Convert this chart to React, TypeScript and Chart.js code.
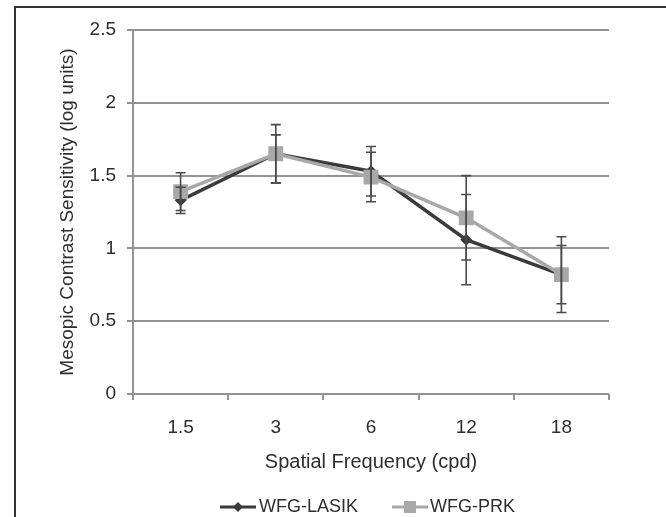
import React, { useEffect, useRef } from "react";
import { Chart, registerables } from "chart.js";

Chart.register(...registerables);

const categories = ["1.5", "3", "6", "12", "18"];
const lasikValues = [1.33, 1.65, 1.53, 1.06, 0.82];
const lasikErrPlus = [0.09, 0.2, 0.17, 0.31, 0.2];
const lasikErrMinus = [0.09, 0.2, 0.17, 0.31, 0.2];
const prkValues = [1.39, 1.65, 1.49, 1.21, 0.82];
const prkErrPlus = [0.13, 0.13, 0.17, 0.29, 0.26];
const prkErrMinus = [0.13, 0.2, 0.17, 0.29, 0.26];
const yTickLabels = ["0", "0.5", "1", "1.5", "2", "2.5"];
const seriesNames = ["WFG-LASIK", "WFG-PRK"];
const yTitle = "Mesopic Contrast Sensitivity (log units)";
const xTitle = "Spatial Frequency (cpd)";

const FONT = "'Liberation Sans', Arial, sans-serif";
const DARK = "#3b3b3b";
const LIGHT = "#a8a8a8";
const GRID = "#939393";
const TEXT = "#2e2e2e";

const errorBarPlugin = {
  id: "errorBars",
  afterDatasetsDraw(chart: any) {
    const { ctx } = chart;
    const y = chart.scales.y;
    const x = chart.scales.x;
    const sets = [
      { v: lasikValues, p: lasikErrPlus, m: lasikErrMinus },
      { v: prkValues, p: prkErrPlus, m: prkErrMinus },
    ];
    ctx.save();
    ctx.strokeStyle = "#4a4a4a";
    ctx.lineWidth = 1.6;
    sets.forEach((s) => {
      s.v.forEach((val, i) => {
        const px = x.getPixelForValue(i);
        const top = y.getPixelForValue(val + s.p[i]);
        const bot = y.getPixelForValue(val - s.m[i]);
        ctx.beginPath();
        ctx.moveTo(px, top);
        ctx.lineTo(px, bot);
        ctx.moveTo(px - 5, top);
        ctx.lineTo(px + 5, top);
        ctx.moveTo(px - 5, bot);
        ctx.lineTo(px + 5, bot);
        ctx.stroke();
      });
    });
    ctx.restore();
  },
};

const legendPlugin = {
  id: "customLegend",
  afterDraw(chart: any) {
    const { ctx } = chart;
    const ly = 507;
    ctx.save();
    ctx.font = `18px ${FONT}`;
    ctx.textBaseline = "middle";
    // LASIK
    ctx.strokeStyle = DARK;
    ctx.lineWidth = 3;
    ctx.beginPath();
    ctx.moveTo(220, ly);
    ctx.lineTo(256, ly);
    ctx.stroke();
    ctx.fillStyle = DARK;
    ctx.beginPath();
    ctx.moveTo(238, ly - 5);
    ctx.lineTo(243, ly);
    ctx.lineTo(238, ly + 5);
    ctx.lineTo(233, ly);
    ctx.closePath();
    ctx.fill();
    ctx.fillStyle = TEXT;
    ctx.fillText(seriesNames[0], 259, ly);
    // PRK
    ctx.strokeStyle = LIGHT;
    ctx.beginPath();
    ctx.moveTo(392, ly);
    ctx.lineTo(428, ly);
    ctx.stroke();
    ctx.fillStyle = LIGHT;
    ctx.fillRect(404, ly - 6, 12, 12);
    ctx.fillStyle = TEXT;
    ctx.fillText(seriesNames[1], 430, ly);
    ctx.restore();
  },
};

export default function App() {
  const ref = useRef<HTMLCanvasElement>(null);
  useEffect(() => {
    document.body.style.margin = "0";
    const chart = new Chart(ref.current as HTMLCanvasElement, {
      type: "line",
      data: {
        labels: categories,
        datasets: [
          {
            label: seriesNames[0],
            data: lasikValues,
            borderColor: DARK,
            backgroundColor: DARK,
            borderWidth: 3.5,
            pointStyle: "rectRot",
            pointRadius: 6,
            pointBorderWidth: 0,
            tension: 0,
            order: 1,
          },
          {
            label: seriesNames[1],
            data: prkValues,
            borderColor: LIGHT,
            backgroundColor: LIGHT,
            borderWidth: 3.5,
            pointStyle: "rect",
            pointRadius: 10.5,
            pointBorderWidth: 0,
            tension: 0,
            order: 0,
          },
        ],
      },
      options: {
        responsive: false,
        animation: false,
        devicePixelRatio: 1,
        layout: { padding: { left: 0, right: 57, top: 30, bottom: 0 } },
        plugins: { legend: { display: false }, tooltip: { enabled: false } },
        scales: {
          x: {
            type: "category",
            offset: true,
            grid: {
              offset: true,
              drawOnChartArea: false,
              drawTicks: true,
              tickLength: 6,
              color: GRID,
              lineWidth: 2,
            },
            border: { display: false },
            ticks: {
              color: TEXT,
              font: { family: FONT, size: 19 },
              padding: 16,
              maxRotation: 0,
            },
            title: {
              display: true,
              text: xTitle,
              color: TEXT,
              font: { family: FONT, size: 20 },
              padding: { top: 0, bottom: 43 },
            },
            afterFit: (s: any) => {
              s.height = 123;
            },
          },
          y: {
            min: 0,
            max: 2.5,
            grid: {
              color: GRID,
              lineWidth: 2,
              tickLength: 6,
            },
            border: { display: true, color: GRID, width: 2 },
            ticks: {
              stepSize: 0.5,
              color: TEXT,
              font: { family: FONT, size: 19 },
              padding: 11,
              callback: (_v: any, i: number) => yTickLabels[i],
            },
            title: {
              display: true,
              text: yTitle,
              color: TEXT,
              font: { family: FONT, size: 19 },
              padding: { top: 56, bottom: 0 },
            },
            afterFit: (s: any) => {
              s.width = 133;
            },
          },
        },
      },
      plugins: [errorBarPlugin, legendPlugin],
    } as any);
    return () => chart.destroy();
  }, []);

  return (
    <div style={{ position: "relative", width: 666, height: 517, background: "#fff", overflow: "hidden" }}>
      <div
        style={{
          position: "absolute",
          left: 14,
          top: 6,
          right: -10,
          bottom: -10,
          borderLeft: "2px solid #333",
          borderTop: "2px solid #333",
        }}
      />
      <canvas ref={ref} width={666} height={517} style={{ position: "absolute", left: 0, top: 0, display: "block" }} />
    </div>
  );
}
